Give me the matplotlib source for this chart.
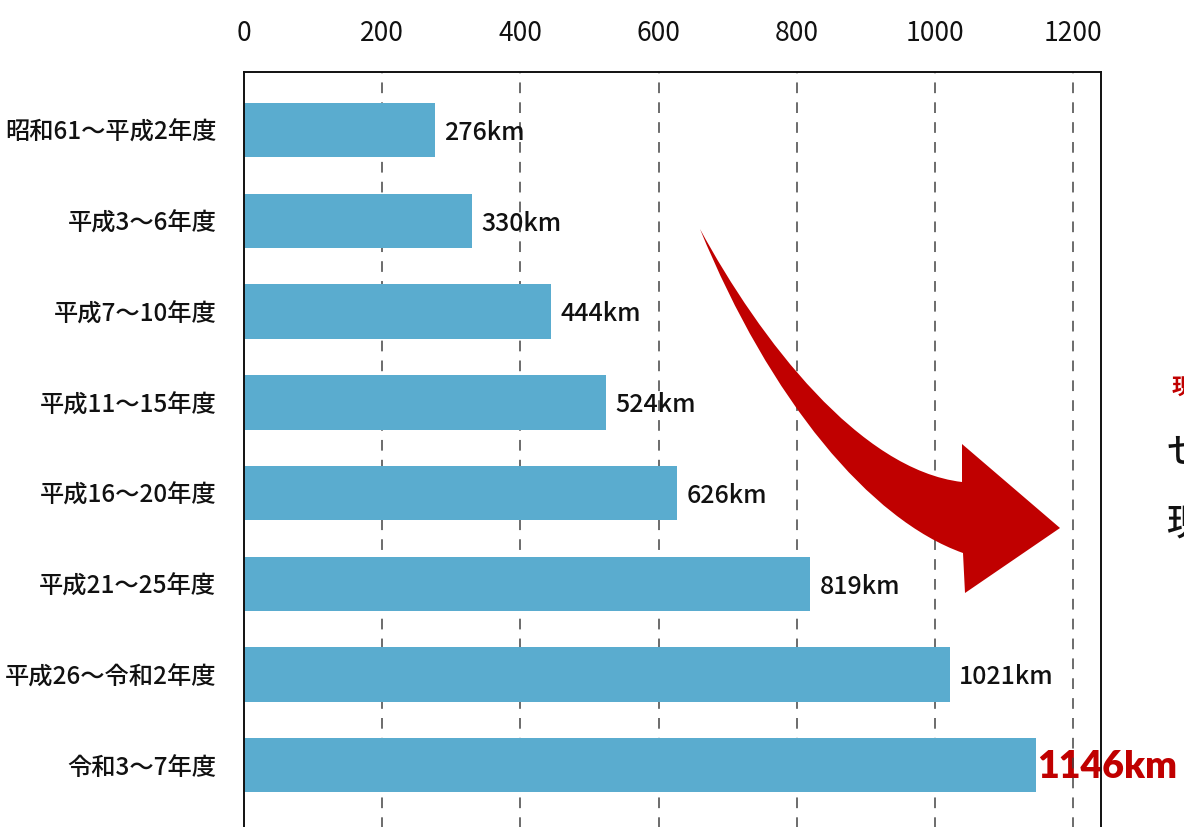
import matplotlib.pyplot as plt
import numpy as np
from matplotlib.path import Path
from matplotlib.patches import PathPatch

plt.rcParams['font.family'] = ['Noto Sans CJK JP', 'DejaVu Sans']

categories = ['昭和61～平成2年度', '平成3～6年度', '平成7～10年度', '平成11～15年度',
              '平成16～20年度', '平成21～25年度', '平成26～令和2年度', '令和3～7年度']
lengths = [276, 330, 444, 524, 626, 819, 1021, 1146]
xticks = [0, 200, 400, 600, 800, 1000, 1200]

W, H = 1184, 827
fig = plt.figure(figsize=(W / 100, H / 100), dpi=100)
ax = fig.add_axes([244 / W, 1 - 856 / H, 857 / W, 784 / H])

y = np.arange(len(categories))
ax.barh(y, lengths, height=0.6, color='#5AACCF', zorder=2)
ax.set_xlim(0, 1240)
ax.set_ylim(8.0, -0.64)

ax.set_yticks(y)
ax.set_yticklabels(categories, fontsize=17.5, color='#111', fontweight='medium')
ax.set_xticks(xticks)
ax.set_xticklabels([str(t) for t in xticks], fontsize=19, color='#111')
ax.xaxis.tick_top()
ax.tick_params(axis='x', length=0, pad=18)
ax.tick_params(axis='y', length=0, pad=20)

for t in xticks[1:]:
    ax.axvline(t, color='#444', lw=1.1, ls=(0, (7, 6)), zorder=1)

for s in ax.spines.values():
    s.set_linewidth(1.4)
    s.set_color('#111')

# value labels
for i, v in enumerate(lengths):
    if i == len(lengths) - 1:
        # sits under the grid line and the right spine, as in the source
        ax.text(v + 1, i + 0.02, f'{v}km', va='center', ha='left', fontsize=27,
                fontweight='heavy', color='#C00000', family=['Lato', 'DejaVu Sans'],
                zorder=0.5)
    else:
        ax.text(v + 14, i + 0.03, f'{v}km', va='center', ha='left', fontsize=18,
                color='#111', fontweight='medium')

# curved red arrow (figure pixel coords, y from top)
def fp(x, yy):
    return (x / W, 1 - yy / H)

verts = [fp(700, 229),
         fp(760, 340), fp(860, 470), fp(962, 482),
         fp(962, 444), fp(1060, 528), fp(965, 593), fp(963, 553),
         fp(870, 520), fp(770, 400), fp(700, 229)]
codes = [Path.MOVETO,
         Path.CURVE4, Path.CURVE4, Path.CURVE4,
         Path.LINETO, Path.LINETO, Path.LINETO, Path.LINETO,
         Path.CURVE4, Path.CURVE4, Path.CURVE4]
arrow = PathPatch(Path(verts, codes), facecolor='#C00000', edgecolor='none',
                  transform=fig.transFigure, zorder=5)
fig.patches.append(arrow)

# side text, cut by the right edge as in the source image
fig.text(1172 / W, 1 - 388 / H, '現', fontsize=16, fontweight='bold', color='#C00000', va='center')
fig.text(1166 / W, 1 - 453 / H, 'せ', fontsize=26, color='#111', va='center', fontweight='medium')
fig.text(1166 / W, 1 - 525 / H, '現', fontsize=26, color='#111', va='center', fontweight='medium')

fig.savefig('out.png', dpi=100)
